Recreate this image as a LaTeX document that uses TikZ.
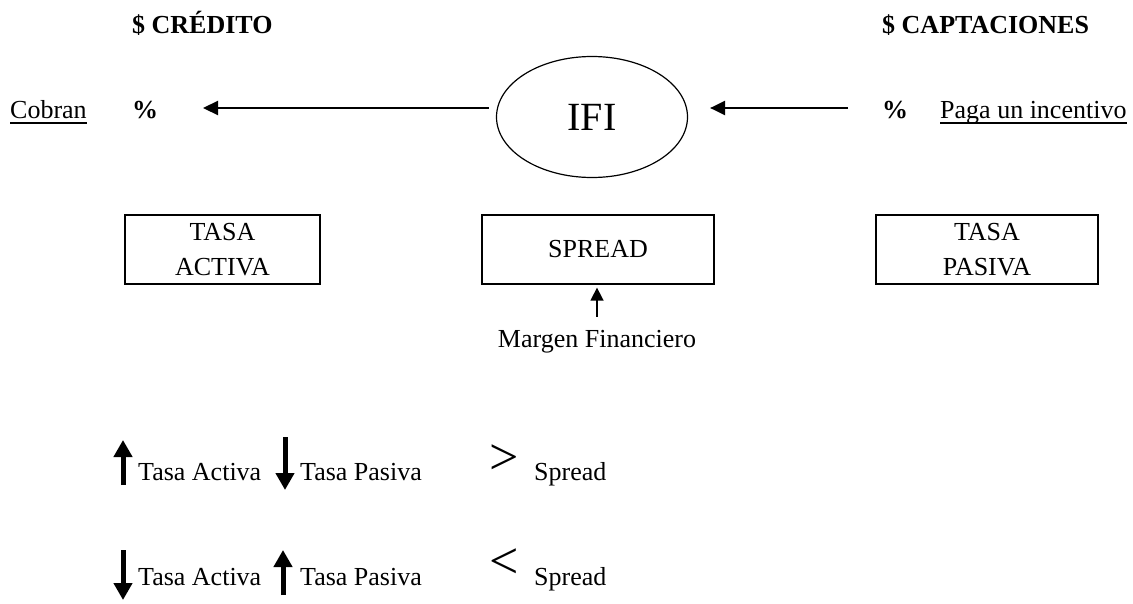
\documentclass[tikz,border=0pt]{standalone}
\usepackage{fontspec}
\setmainfont{Liberation Serif}
\usetikzlibrary{arrows.meta,shapes.geometric}
\begin{document}
\begin{tikzpicture}[x=1pt,y=-1pt,
  txt/.style={inner sep=0pt, font=\fontsize{26}{35}\selectfont},
  head/.style={inner sep=0pt, font=\fontsize{26}{35}\selectfont\bfseries},
  big/.style={inner sep=0pt, font=\fontsize{52}{60}\selectfont},
  ratebox/.style={draw, line width=1.3pt, align=center, inner sep=0pt,
    font=\fontsize{26}{35}\selectfont, minimum height=69pt},
  harrow/.style={line width=2.2pt, -{Triangle[length=15pt,width=14pt]}},
  sarrow/.style={line width=1.6pt, -{Triangle[length=13pt,width=13pt]}},
  bigarrow/.style={line width=5pt, -{Triangle[length=17pt,width=18pt]}},
  uline/.style={line width=1.4pt}
]
% canvas
\fill[white] (0,0) rectangle (1133,603);
\useasboundingbox (0,0) rectangle (1133,603);

% headings
\node[head, anchor=base west] (credito) at (132,33) {\$ CRÉDITO};
\node[head, anchor=base west] (captaciones) at (882,33) {\$ CAPTACIONES};

% institution in the middle
\node[draw, ellipse, line width=1.2pt, minimum width=191pt, minimum height=121pt,
  inner sep=0pt, font=\fontsize{40}{48}\selectfont] (ifi) at (592,117) {IFI};

% left side: what is charged
\node[txt, anchor=base west] (cobran) at (10,118) {Cobran};
\draw[uline] ([yshift=-5pt]cobran.base west) -- ([yshift=-5pt]cobran.base east);
\node[head, anchor=base west] (pctL) at (132,118) {\%};
\coordinate (tipL) at (203,108);
\draw[harrow] ([shift={(-7,-9)}]ifi.west) -- (tipL);

% right side: what is paid
\node[head, anchor=base west] (pctR) at (882,118) {\%};
\node[txt, anchor=base west] (paga) at (940,118) {Paga un incentivo};
\draw[uline] ([yshift=-5pt]paga.base west) -- ([yshift=-5pt]paga.base east);
\coordinate (startR) at (848,108);
\draw[harrow] (startR) -- ([shift={(22,-9)}]ifi.east);

% rate boxes
\node[ratebox, minimum width=195pt] (activa) at (222.5,249.5) {TASA\\ACTIVA};
\node[ratebox, minimum width=232pt] (spread) at (598,249.5) {SPREAD};
\node[ratebox, minimum width=222pt] (pasiva) at (987,249.5) {TASA\\PASIVA};

% financial margin
\node[txt, anchor=base] (margen) at (597,347) {Margen Financiero};
\draw[sarrow, shorten <=13pt, shorten >=3pt] (margen.north) -- (margen.north |- spread.south);

% first relation
\draw[bigarrow] (123,485) -- (123,440);
\node[txt, anchor=base west] (ta1) at (138,480) {Tasa Activa};
\draw[bigarrow] (285,437) -- (285,490);
\node[txt, anchor=base west] (tp1) at (300,480) {Tasa Pasiva};
\node[big, anchor=base west] (gt) at (489,474) {>};
\node[txt, anchor=base west] (sp1) at (534,480) {Spread};

% second relation
\draw[bigarrow] (123,550) -- (123,600);
\node[txt, anchor=base west] (ta2) at (138,585) {Tasa Activa};
\draw[bigarrow] (283,595) -- (283,550);
\node[txt, anchor=base west] (tp2) at (300,585) {Tasa Pasiva};
\node[big, anchor=base west] (lt) at (489,578) {<};
\node[txt, anchor=base west] (sp2) at (534,585) {Spread};
\end{tikzpicture}
\end{document}
